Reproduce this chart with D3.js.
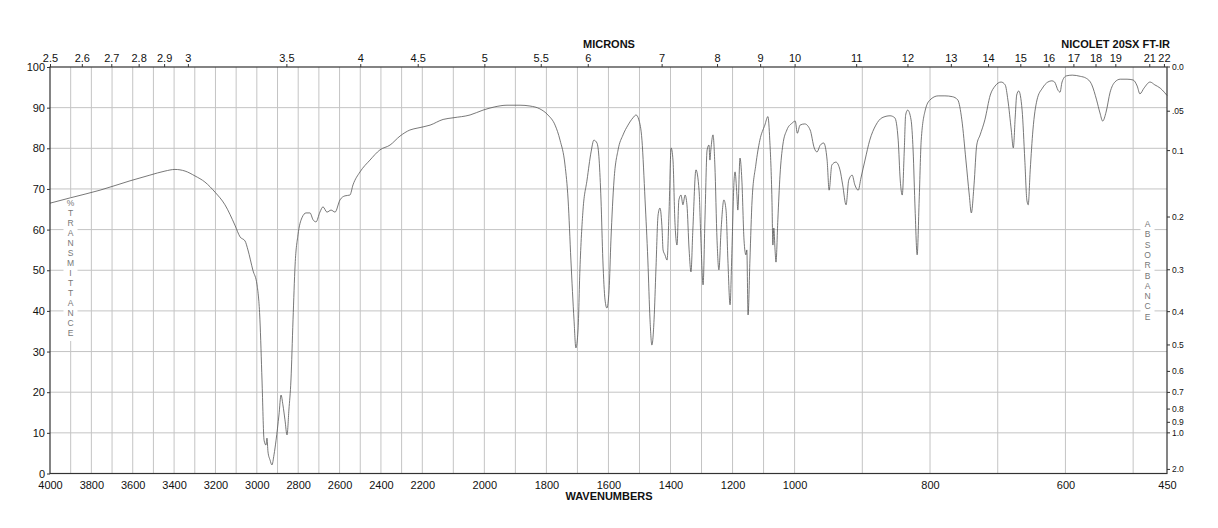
<!DOCTYPE html>
<html>
<head>
<meta charset="utf-8">
<script src="https://cdn.jsdelivr.net/npm/d3@7"></script>
<style>
  body { margin: 0; background: #fff; }
  svg text { font-family: "Liberation Sans", Arial, sans-serif; fill: #111; }
</style>
</head>
<body>
<div id="chart"></div>
<script>
// spectrum: [wavenumber cm-1, %T]
const spectrum = [
  [4000,66.5],[3903,67.8],[3758,69.7],[3613,72.0],[3517,73.4],[3444,74.4],[3396,74.8],[3347,74.4],
  [3299,73.2],[3251,71.7],[3202,69.2],[3154,66.1],[3106,61.1],[3081,58.2],[3057,57.2],[3043,55.0],
  [3019,50.0],[2999,46.4],[2985,37.8],[2975,23.0],[2965,8.2],[2956,7.0],[2951,8.7],[2946,5.3],
  [2936,3.3],[2927,2.1],[2917,4.6],[2907,8.2],[2893,14.4],[2883,19.3],[2874,16.9],[2864,13.2],
  [2854,9.5],[2845,15.6],[2835,23.0],[2825,37.8],[2815,51.3],[2801,58.7],[2782,62.9],[2762,64.1],
  [2743,64.1],[2728,62.4],[2714,61.9],[2695,64.3],[2680,65.6],[2661,64.3],[2641,64.8],[2622,64.3],
  [2598,67.3],[2574,68.3],[2550,68.5],[2535,71.0],[2501,74.2],[2453,77.1],[2405,79.6],[2356,80.8],
  [2308,83.0],[2260,84.5],[2221,85.0],[2175,85.7],[2133,87.1],[2101,87.5],[2046,88.2],[2004,89.4],
  [1966,90.2],[1927,90.6],[1885,90.6],[1853,90.4],[1821,89.7],[1795,88.2],[1772,85.7],[1756,82.0],
  [1740,75.9],[1730,67.3],[1721,52.5],[1711,37.8],[1705,30.9],[1698,35.3],[1692,50.1],[1682,64.8],
  [1669,72.2],[1656,79.1],[1647,82.0],[1637,81.3],[1630,77.1],[1624,67.3],[1618,52.5],[1611,42.7],
  [1605,40.7],[1598,45.1],[1592,57.4],[1582,72.2],[1569,79.6],[1553,83.3],[1537,85.7],[1521,87.5],
  [1511,88.2],[1502,87.0],[1492,82.0],[1482,67.3],[1473,52.5],[1466,37.8],[1460,31.6],[1453,37.8],
  [1447,50.1],[1440,63.6],[1434,65.3],[1427,59.9],[1424,55.0],[1418,53.8],[1411,52.5],[1405,63.6],
  [1398,80.1],[1392,77.1],[1386,62.4],[1379,56.2],[1373,67.3],[1366,68.5],[1360,66.1],[1353,68.5],
  [1347,66.1],[1340,55.0],[1334,49.6],[1328,59.9],[1318,74.7],[1308,69.7],[1302,57.4],[1295,46.4],
  [1289,62.4],[1282,79.6],[1276,80.8],[1273,77.1],[1270,79.6],[1263,83.3],[1257,75.9],[1250,57.4],
  [1244,50.1],[1237,59.9],[1228,67.3],[1221,64.8],[1215,52.5],[1208,41.5],[1202,55.0],[1195,72.2],
  [1192,74.2],[1186,68.5],[1183,64.8],[1176,77.6],[1170,72.2],[1163,57.4],[1157,53.8],[1154,55.0],
  [1150,39.0],[1144,52.5],[1137,67.3],[1125,75.9],[1112,82.0],[1096,85.7],[1086,87.8],[1080,82.0],
  [1073,67.3],[1070,56.2],[1067,60.4],[1063,55.0],[1060,52.0],[1054,62.4],[1047,73.4],[1038,80.8],
  [1025,84.5],[1008,86.2],[999,86.7],[996,83.7],[992,85.7],[985,86.0],[977,84.5],[971,80.1],
  [967,79.1],[962,80.8],[957,81.3],[952,77.1],[949,69.7],[945,75.9],[939,76.6],[933,74.7],
  [929,71.0],[924,66.1],[920,72.2],[915,73.4],[911,71.0],[906,69.7],[902,72.7],[896,77.1],
  [889,82.0],[880,85.7],[871,87.5],[859,88.0],[852,87.5],[847,82.0],[844,72.2],[841,68.5],
  [838,79.6],[836,88.2],[833,89.4],[828,87.0],[825,79.6],[822,64.8],[819,53.8],[816,67.3],
  [813,82.0],[807,89.4],[800,91.9],[788,92.9],[778,92.9],[767,92.7],[759,91.9],[753,87.0],
  [747,77.1],[742,68.5],[739,64.1],[735,71.0],[731,80.8],[726,83.3],[719,87.0],[711,93.1],
  [704,95.3],[695,96.3],[689,95.6],[685,91.9],[680,84.5],[677,80.1],[674,88.2],[672,93.1],
  [669,94.1],[664,89.4],[660,77.1],[657,67.3],[655,66.1],[652,74.7],[648,84.5],[642,91.9],
  [634,94.8],[626,96.3],[620,96.6],[616,96.3],[611,94.3],[608,93.8],[605,96.3],[599,97.8],
  [590,98.0],[578,97.7],[570,97.3],[561,95.6],[554,91.9],[549,88.7],[545,86.7],[540,88.9],
  [534,93.8],[527,96.3],[519,97.0],[509,97.0],[500,96.8],[494,95.3],[490,93.4],[484,94.8],
  [475,96.3],[468,95.6],[460,94.8],[454,93.8],[450,93.0]
];

const wnTicks = [4000,3800,3600,3400,3200,3000,2800,2600,2400,2200,2000,1800,1600,1400,1200,1000,800,600,450];
const micronTicks = [2.5,2.6,2.7,2.8,2.9,3,3.5,4,4.5,5,5.5,6,7,8,9,10,11,12,13,14,15,16,17,18,19,21,22];
const tTicks = [0,10,20,30,40,50,60,70,80,90,100];
const absTicks = [0.0,0.05,0.1,0.2,0.3,0.4,0.5,0.6,0.7,0.8,0.9,1.0,2.0];
const absLabels = ["0.0",".05","0.1","0.2","0.3","0.4","0.5","0.6","0.7","0.8","0.9","1.0","2.0"];

const W = 1218, H = 528;
const pL = 50, pR = 1167, pT = 67, pB = 473.5;

const svg = d3.select("#chart").append("svg")
  .attr("width", W).attr("height", H);

// the wavenumber axis changes scale at 2200 and 1000
const x = d3.scaleLinear()
  .domain([4000, 2200, 1000, 450])
  .range([pL, 422.3, 794.6, pR]);
const y = d3.scaleLinear().domain([0, 100]).range([pB, pT]);

// grid
const grid = svg.append("g").attr("stroke", "#c4c4c4").attr("stroke-width", 1);
grid.selectAll(".v").data(d3.range(3900, 450, -100)).enter().append("line")
  .attr("class", "v")
  .attr("x1", d => x(d)).attr("x2", d => x(d))
  .attr("y1", pT).attr("y2", pB);
grid.selectAll(".h").data(tTicks.slice(1, -1)).enter().append("line")
  .attr("class", "h")
  .attr("x1", pL).attr("x2", pR)
  .attr("y1", d => y(d)).attr("y2", d => y(d));

// vertical axis captions sit on a white patch over the grid
function column(txt, cx, y0, step) {
  const g = svg.append("g");
  g.append("rect").attr("x", cx - 7).attr("y", y0 - 9)
    .attr("width", 14).attr("height", step * (txt.length - 1) + 14).attr("fill", "#fff");
  g.selectAll("text").data(txt.split("")).enter().append("text")
    .attr("x", cx).attr("y", (d, i) => y0 + i * step)
    .attr("text-anchor", "middle").attr("font-size", 8.5)
    .style("fill", "#777").text(d => d);
}
column("%TRANSMITTANCE", 70.5, 206, 10);
column("ABSORBANCE", 1147.5, 227, 10.3);

// spectrum
const line = d3.line()
  .x(d => x(d[0])).y(d => y(d[1]))
  .curve(d3.curveMonotoneX);
svg.append("path").datum(spectrum)
  .attr("d", line).attr("fill", "none")
  .attr("stroke", "#555").attr("stroke-width", 0.8);

// frame
svg.append("rect").attr("x", pL).attr("y", pT)
  .attr("width", pR - pL).attr("height", pB - pT)
  .attr("fill", "none").attr("stroke", "#333").attr("stroke-width", 1.2);

// bottom axis
svg.append("g").attr("transform", `translate(0,${pB})`)
  .call(d3.axisBottom(x).tickValues(wnTicks).tickSize(0).tickPadding(8).tickFormat(d3.format("d")))
  .call(g => g.select(".domain").remove())
  .selectAll("text").attr("font-size", 11);

// left axis
svg.append("g").attr("transform", `translate(${pL},0)`)
  .call(d3.axisLeft(y).tickValues(tTicks).tickSize(3).tickPadding(2))
  .call(g => g.select(".domain").remove())
  .call(g => g.selectAll("line").attr("stroke", "#333"))
  .selectAll("text").attr("font-size", 11);

// top micron axis
svg.append("g").attr("transform", `translate(0,${pT})`)
  .call(d3.axisTop(x).tickValues(micronTicks.map(m => 10000 / m)).tickSize(3).tickPadding(2)
    .tickFormat((d, i) => micronTicks[i]))
  .call(g => g.select(".domain").remove())
  .call(g => g.selectAll("line").attr("stroke", "#333"))
  .selectAll("text").attr("font-size", 11);

// right absorbance axis
const ra = svg.append("g").attr("transform", `translate(${pR},0)`);
ra.selectAll("line").data(absTicks).enter().append("line")
  .attr("x1", 0).attr("x2", 3)
  .attr("y1", d => y(100 * Math.pow(10, -d))).attr("y2", d => y(100 * Math.pow(10, -d)))
  .attr("stroke", "#333");
ra.selectAll("text").data(absTicks).enter().append("text")
  .attr("x", 5).attr("y", d => y(100 * Math.pow(10, -d)))
  .attr("dy", "0.35em").attr("font-size", 8.5)
  .text((d, i) => absLabels[i]);

// titles
svg.append("text").attr("x", 609).attr("y", 48).attr("text-anchor", "middle")
  .attr("font-size", 11).attr("font-weight", "bold").text("MICRONS");
svg.append("text").attr("x", 1170).attr("y", 48).attr("text-anchor", "end")
  .attr("font-size", 11).attr("font-weight", "bold").text("NICOLET 20SX FT-IR");
svg.append("text").attr("x", 609).attr("y", 500).attr("text-anchor", "middle")
  .attr("font-size", 11).attr("font-weight", "bold").text("WAVENUMBERS");
</script>
</body>
</html>
